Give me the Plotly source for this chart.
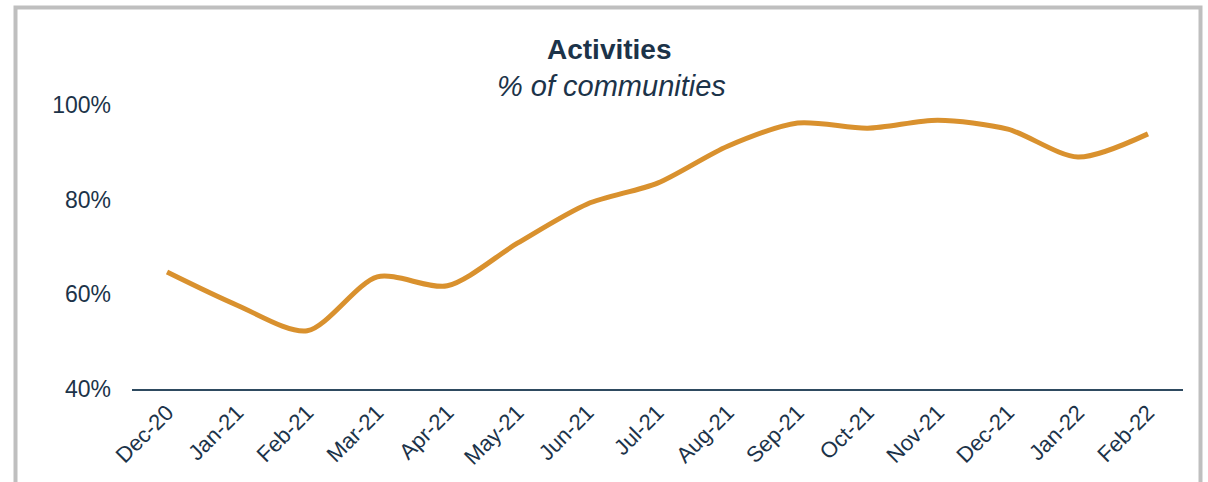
import plotly.graph_objects as go

months = ["Dec-20", "Jan-21", "Feb-21", "Mar-21", "Apr-21", "May-21", "Jun-21",
          "Jul-21", "Aug-21", "Sep-21", "Oct-21", "Nov-21", "Dec-21", "Jan-22", "Feb-22"]
activities_pct = [64.7, 57.7, 52.3, 63.7, 61.8, 70.8, 79.1, 83.5, 91.3, 96.2,
                  95.1, 96.8, 94.9, 89.0, 93.9]
y_ticks = [40, 60, 80, 100]

W, H = 1208, 482
L, R, T, B = 132, 25, 105, 93
pw, ph = W - L - R, H - T - B

def px(x):
    return (x - L) / pw

def py(y):
    return (H - B - y) / ph

text_color = "#1C3349"

fig = go.Figure()
fig.add_trace(go.Scatter(
    x=months, y=activities_pct, mode="lines",
    line=dict(color="#D9912E", width=5, shape="spline", smoothing=0.8),
    showlegend=False, hoverinfo="x+y",
))

fig.update_layout(
    width=W, height=H,
    margin=dict(l=L, r=R, t=T, b=B),
    paper_bgcolor="white", plot_bgcolor="white",
    font=dict(family="Liberation Sans, Arial, sans-serif", color=text_color, size=23),
    xaxis=dict(
        type="category", range=[-0.5, len(months) - 0.5],
        showgrid=False, showline=True, linecolor="#2E4A60", linewidth=2,
        ticks="", tickangle=-45, tickfont=dict(size=22, color=text_color),
        zeroline=False,
    ),
    yaxis=dict(
        range=[40, 100], tickvals=y_ticks, ticktext=[f"{v}%" for v in y_ticks],
        showgrid=False, showline=False, zeroline=False, ticks="",
        ticklabelstandoff=20, tickfont=dict(size=23, color=text_color),
    ),
    annotations=[
        dict(text="<b>Activities</b>", x=px(609), y=py(50), xref="paper", yref="paper",
             xanchor="center", yanchor="middle", showarrow=False,
             font=dict(size=28, color=text_color)),
        dict(text="<i>% of communities</i>", x=px(611), y=py(86), xref="paper", yref="paper",
             xanchor="center", yanchor="middle", showarrow=False,
             font=dict(size=29, color=text_color)),
    ],
    shapes=[
        dict(type="rect", xref="paper", yref="paper",
             x0=px(15.5), x1=px(1200.5), y0=py(495), y1=py(7.5),
             line=dict(color="#BFBFBF", width=4), fillcolor="rgba(0,0,0,0)", layer="below"),
    ],
)

fig.write_html("out.html")
